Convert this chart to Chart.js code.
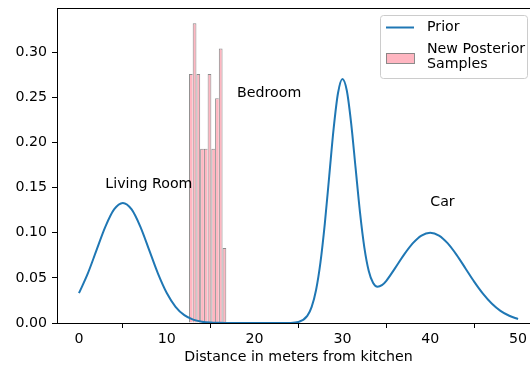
<!DOCTYPE html>
<html>
<head>
<meta charset="utf-8">
<script src="https://cdn.jsdelivr.net/npm/chart.js@4.4.0/dist/chart.umd.min.js"></script>
<style>
  html, body { margin: 0; padding: 0; background: #fff; overflow: hidden; }
  #wrap { width: 545px; height: 370px; }
</style>
</head>
<body>
<div id="wrap"><canvas id="c" width="545" height="370"></canvas></div>
<script>
// prior curve
const priorX = [0, 1, 2, 3, 4, 5, 6, 7, 8, 9, 10, 11, 12, 13, 14, 15, 16, 17, 18, 19, 20, 21, 22, 23, 24, 25,
  26, 26.5, 27, 27.5, 28, 28.5, 29, 29.5, 30, 30.5, 31, 31.5, 32, 32.5, 33, 33.5, 34, 34.5, 35,
  36, 37, 38, 39, 40, 41, 42, 43, 44, 45, 46, 47, 48, 49, 50]
const priorY = [0.033, 0.0547, 0.0807, 0.1065, 0.1258, 0.133, 0.1258, 0.1065, 0.0807, 0.0547, 0.0332,
  0.018, 0.0087, 0.0038, 0.0015, 0.0005, 0.0002, 0.0001, 0, 0, 0, 0, 0, 0, 0.0001, 0.0011,
  0.0078, 0.0178, 0.0365, 0.0671, 0.1104, 0.1629, 0.2153, 0.2548, 0.2704, 0.2576, 0.221, 0.1718,
  0.1228, 0.0835, 0.0576, 0.0442, 0.0401, 0.0419, 0.0468,
  0.0608, 0.0755, 0.0882, 0.0969, 0.1, 0.0969, 0.0882, 0.0755, 0.0607, 0.0458, 0.0325, 0.0216,
  0.0135, 0.008, 0.0044]

// histogram of new posterior samples (density)
const binCenters = [12.74, 13.165, 13.59, 14.015, 14.44, 14.865, 15.29, 15.715, 16.14, 16.565]
const binDensity = [0.276, 0.332, 0.276, 0.193, 0.193, 0.276, 0.193, 0.249, 0.304, 0.083]

const xTicks = [0, 10, 20, 30, 40, 50]
const yTicks = [0, 0.05, 0.1, 0.15, 0.2, 0.25, 0.3]

const noteText = ['Living Room', 'Bedroom', 'Car']
const noteX = [3, 18, 40]
const noteY = [0.15, 0.25, 0.13]

const FONT = 'DejaVu Sans'
const FSIZE = 14.2
const BLUE = '#1f77b4'
const PINK = '#ffb6c1'
const EDGE = 'rgba(128,128,128,0.9)'

// shared edges like a histogram outline: left edge always, right edge only where the next bar is lower
function edgeWidth(c) {
    const i = c.dataIndex
    const last = i === binDensity.length - 1
    const right = last || binDensity[i + 1] < binDensity[i] ? 1 : 0
    return {top: 1, left: 1, right: right, bottom: 0}
}

const extras = {
    id: 'extras',
    afterDraw(chart) {
        const ctx = chart.ctx
        const a = chart.chartArea
        const sx = chart.scales.x
        const sy = chart.scales.y

        ctx.save()
        // top spine
        ctx.strokeStyle = '#000'
        ctx.lineWidth = 1
        ctx.beginPath()
        ctx.moveTo(a.left, a.top + 0.5)
        ctx.lineTo(a.right, a.top + 0.5)
        ctx.stroke()

        // text notes
        ctx.fillStyle = '#000'
        ctx.font = FSIZE + 'px "' + FONT + '"'
        ctx.textAlign = 'left'
        ctx.textBaseline = 'alphabetic'
        for (let i = 0; i < noteText.length; i++) {
            ctx.fillText(noteText[i], sx.getPixelForValue(noteX[i]), sy.getPixelForValue(noteY[i]))
        }

        // legend
        ctx.fillStyle = 'rgba(255,255,255,0.8)'
        ctx.strokeStyle = '#cccccc'
        ctx.beginPath()
        ctx.roundRect(380.5, 15.5, 147, 63, 3)
        ctx.fill()
        ctx.stroke()

        ctx.strokeStyle = BLUE
        ctx.lineWidth = 2
        ctx.beginPath()
        ctx.moveTo(386, 27.5)
        ctx.lineTo(414, 27.5)
        ctx.stroke()

        ctx.fillStyle = PINK
        ctx.fillRect(386, 53, 28, 10)
        ctx.strokeStyle = EDGE
        ctx.lineWidth = 1
        ctx.strokeRect(386.5, 53.5, 28, 10)

        ctx.fillStyle = '#000'
        ctx.textBaseline = 'middle'
        ctx.fillText('Prior', 427, 27)
        ctx.fillText('New Posterior', 427, 49)
        ctx.fillText('Samples', 427, 64)
        ctx.restore()
    }
}

Chart.defaults.font.family = FONT
Chart.defaults.font.size = FSIZE
Chart.defaults.color = '#000'

new Chart(document.getElementById('c'), {
    type: 'bar',
    data: {
        datasets: [
            {
                type: 'line',
                label: 'Prior',
                data: priorX.map((x, i) => ({x: x, y: priorY[i]})),
                borderColor: BLUE,
                borderWidth: 2,
                pointRadius: 0,
                cubicInterpolationMode: 'monotone',
                fill: false,
                order: 0
            },
            {
                type: 'bar',
                label: 'New Posterior Samples',
                data: binCenters.map((x, i) => ({x: x, y: binDensity[i]})),
                backgroundColor: PINK,
                borderColor: EDGE,
                borderWidth: edgeWidth,
                borderSkipped: false,
                inflateAmount: 0,
                barPercentage: 1,
                categoryPercentage: 1,
                order: 1
            }
        ]
    },
    options: {
        responsive: false,
        animation: false,
        devicePixelRatio: 1,
        layout: {padding: {left: 0, top: 8, right: 5, bottom: 0}},
        plugins: {legend: {display: false}, tooltip: {enabled: false}},
        scales: {
            x: {
                type: 'linear',
                min: -2.5,
                max: 52.5,
                offset: false,
                afterBuildTicks: s => { s.ticks = xTicks.map(v => ({value: v})) },
                afterFit: s => { s.height = 47; s.paddingLeft = 0; s.paddingRight = 0 },
                grid: {display: true, drawOnChartArea: false, drawTicks: true, tickLength: 5, color: '#000'},
                border: {display: true, color: '#000', width: 1},
                ticks: {padding: 3, maxRotation: 0, callback: v => String(v)},
                title: {display: true, text: 'Distance in meters from kitchen', padding: {top: 0, bottom: 4.5}}
            },
            y: {
                min: 0,
                max: 0.349,
                afterBuildTicks: s => { s.ticks = yTicks.map(v => ({value: v})) },
                afterFit: s => { s.width = 57; s.paddingTop = 0; s.paddingBottom = 0 },
                grid: {display: true, drawOnChartArea: false, drawTicks: true, tickLength: 5, color: '#000'},
                border: {display: true, color: '#000', width: 1},
                ticks: {padding: 5, callback: v => v.toFixed(2)}
            }
        }
    },
    plugins: [extras]
})
</script>
</body>
</html>
